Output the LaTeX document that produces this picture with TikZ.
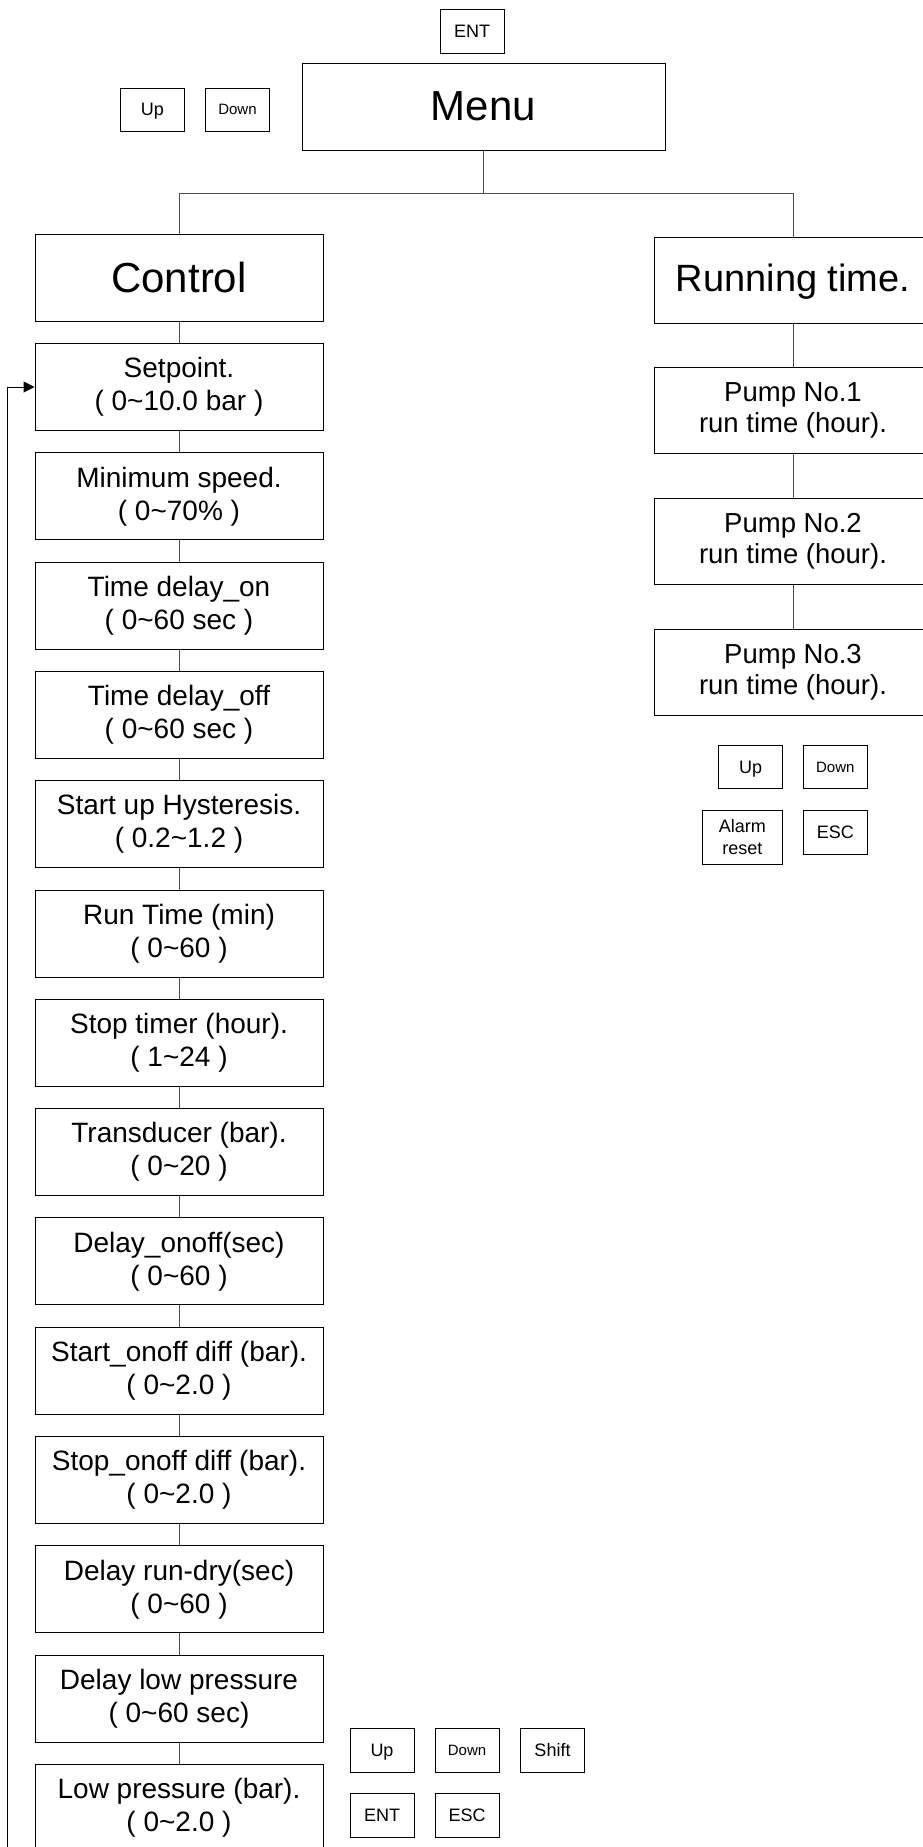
\documentclass[tikz,border=0pt]{standalone}
\usepackage{fontspec}
\setmainfont{Liberation Sans}
\usetikzlibrary{arrows.meta, positioning}

\begin{document}
\begin{tikzpicture}[
    x=1pt, y=-1pt,
    node distance=21.3pt,
    titlebox/.style={rectangle, draw=black, line width=1pt, minimum width=288pt, minimum height=87pt, font=\fontsize{42}{48}\selectfont},
    itembox/.style={rectangle, draw=black, line width=1pt, minimum width=288pt, minimum height=87pt, align=center, font=\fontsize{28}{33}\selectfont},
    pumpbox/.style={itembox, minimum width=278pt, minimum height=86pt, font=\fontsize{27.5}{31}\selectfont},
    keybox/.style={rectangle, draw=black, line width=0.9pt, minimum width=64pt, minimum height=44pt, inner sep=0pt, align=center, text height=12.9pt, text depth=0pt, font=\fontsize{18}{20}\selectfont},
    smallkey/.style={keybox, text height=10.7pt, font=\fontsize{15}{18}\selectfont},
    link/.style={draw=black!70, line width=1pt},
    arrow/.style={-{Triangle[length=11pt, width=11pt]}, line width=1pt, black}
]
    \useasboundingbox (0,0) rectangle (923,1847);

    % Nodes
    \node[titlebox, minimum width=363pt] (menu) at (483.5,106.5) {Menu};
    \node[titlebox] (control) at (179,277.5) {Control};
    \node[titlebox, minimum width=278pt, minimum height=86pt, text height=23pt, text depth=0pt, font=\fontsize{38}{44}\selectfont] (running) at (793,280) {Running time.};

    \node[itembox, below=21.5pt of control] (setpoint) {Setpoint.\\( 0\textasciitilde10.0 bar )};
    \node[itembox, below=of setpoint] (minspeed) {Minimum speed.\\( 0\textasciitilde70\% )};
    \node[itembox, below=of minspeed] (delayon) {Time delay\_on\\( 0\textasciitilde60 sec )};
    \node[itembox, below=of delayon] (delayoff) {Time delay\_off\\( 0\textasciitilde60 sec )};
    \node[itembox, below=of delayoff] (hyst) {Start up Hysteresis.\\( 0.2\textasciitilde1.2 )};
    \node[itembox, below=of hyst] (runtime) {Run Time (min)\\( 0\textasciitilde60 )};
    \node[itembox, below=of runtime] (stoptimer) {Stop timer (hour).\\( 1\textasciitilde24 )};
    \node[itembox, below=of stoptimer] (transducer) {Transducer (bar).\\( 0\textasciitilde20 )};
    \node[itembox, below=of transducer] (delayonoff) {Delay\_onoff(sec)\\( 0\textasciitilde60 )};
    \node[itembox, below=of delayonoff] (startdiff) {Start\_onoff diff (bar).\\( 0\textasciitilde2.0 )};
    \node[itembox, below=of startdiff] (stopdiff) {Stop\_onoff diff (bar).\\( 0\textasciitilde2.0 )};
    \node[itembox, below=of stopdiff] (rundry) {Delay run-dry(sec)\\( 0\textasciitilde60 )};
    \node[itembox, below=of rundry] (delaylow) {Delay low pressure\\( 0\textasciitilde60 sec)};
    \node[itembox, below=of delaylow] (lowpress) {Low pressure (bar).\\( 0\textasciitilde2.0 )};

    \node[pumpbox, below=43.7pt of running] (pump1) {Pump No.1\\run time (hour).};
    \node[pumpbox, below=43.7pt of pump1] (pump2) {Pump No.2\\run time (hour).};
    \node[pumpbox, below=43.7pt of pump2] (pump3) {Pump No.3\\run time (hour).};

    % Keys
    \node[keybox] (entTop) at (472,31) {ENT};
    \node[keybox, minimum height=43pt] (upTop) at (152.5,109.5) {Up};
    \node[smallkey, minimum height=43pt] (downTop) at (237.5,109.5) {Down};

    \node[keybox, minimum height=42.6pt] (upR) at (750.5,767) {Up};
    \node[smallkey, minimum width=63.3pt, minimum height=42.6pt] (downR) at (835.3,767) {Down};
    \node[keybox, minimum width=80pt, minimum height=53.6pt, text height={}, text depth={}, font=\fontsize{18}{22}\selectfont] (alarmR) at (742.3,837.5) {Alarm\\reset};
    \node[keybox, minimum width=63.3pt, minimum height=43.3pt] (escR) at (835.3,832.3) {ESC};

    \node[keybox] (upB) at (382,1750) {Up};
    \node[smallkey] (downB) at (467,1750) {Down};
    \node[keybox] (shiftB) at (552.5,1750) {Shift};
    \node[keybox] (entB) at (382,1815) {ENT};
    \node[keybox] (escB) at (467,1815) {ESC};

    % Links
    \draw[link] (menu.south) -- ++(0,43) -| (control.north);
    \draw[link] (menu.south) -- ++(0,43) -| (running.north);
    \draw[link] (control) -- (setpoint);
    \draw[link] (setpoint) -- (minspeed);
    \draw[link] (minspeed) -- (delayon);
    \draw[link] (delayon) -- (delayoff);
    \draw[link] (delayoff) -- (hyst);
    \draw[link] (hyst) -- (runtime);
    \draw[link] (runtime) -- (stoptimer);
    \draw[link] (stoptimer) -- (transducer);
    \draw[link] (transducer) -- (delayonoff);
    \draw[link] (delayonoff) -- (startdiff);
    \draw[link] (startdiff) -- (stopdiff);
    \draw[link] (stopdiff) -- (rundry);
    \draw[link] (rundry) -- (delaylow);
    \draw[link] (delaylow) -- (lowpress);
    \draw[link] (running) -- (pump1);
    \draw[link] (pump1) -- (pump2);
    \draw[link] (pump2) -- (pump3);

    \draw[arrow] (lowpress.south) -- ++(0,30) -| ([xshift=-27pt]setpoint.west) -- (setpoint.west);
\end{tikzpicture}
\end{document}
